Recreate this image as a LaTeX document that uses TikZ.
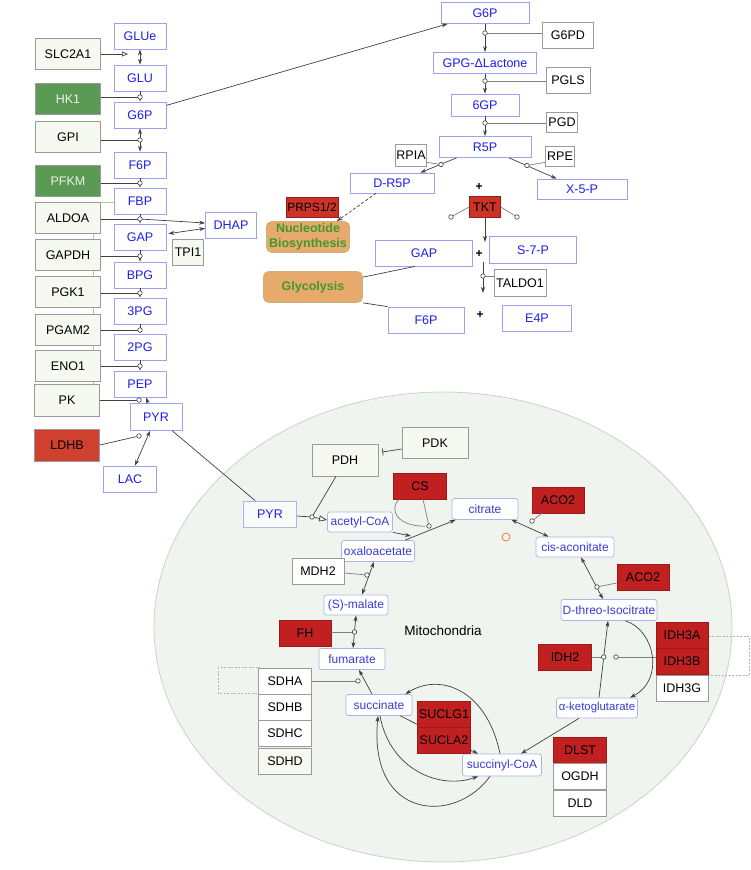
\documentclass[tikz,border=0pt]{standalone}
\usepackage{fontspec}
\setmainfont{Liberation Sans}
\usetikzlibrary{arrows.meta,calc}
\definecolor{metb}{HTML}{A0A0F0}
\definecolor{mett}{HTML}{1E1EEB}
\definecolor{enzb}{HTML}{9A9A9A}
\definecolor{enzf}{HTML}{F5F9EF}
\definecolor{hkf}{HTML}{5B9A55}
\definecolor{hkt}{HTML}{EAF2E4}
\definecolor{ldhf}{HTML}{D0402E}
\definecolor{redf}{HTML}{C0201F}
\definecolor{redb}{HTML}{A01818}
\definecolor{tktf}{HTML}{CC3328}
\definecolor{mitof}{HTML}{EFF4EE}
\definecolor{mitob}{HTML}{C9D3C9}
\definecolor{mmb}{HTML}{AEB4E6}
\definecolor{mmt}{HTML}{3A3AD6}
\definecolor{orf}{HTML}{E8A96C}
\definecolor{orb}{HTML}{C9B37A}
\definecolor{ort}{HTML}{3F9A2E}
\definecolor{linec}{HTML}{404040}
\definecolor{lgreen}{HTML}{A8D880}
\begin{document}
\begin{tikzpicture}[x=1pt,y=-1pt,
  base/.style={inner sep=0pt, font=\fontsize{12.5}{14}\selectfont, line width=0.7pt},
  sz/.style 2 args={minimum width=#1pt, minimum height=#2pt},
  met/.style={base, draw=metb, fill=white, text=mett},
  enz/.style={base, draw=enzb, fill=enzf, text=black},
  wenz/.style={base, draw=enzb, fill=white, text=black},
  genz/.style={base, draw=enzb, fill=hkf, text=hkt},
  renz/.style={base, draw=redb, fill=redf, text=black},
  mm/.style={base, rounded corners=2.5pt, draw=mmb, fill=white, text=mmt, font=\fontsize{12}{14}\selectfont},
  pathbox/.style={base, rounded corners=5pt, draw=orb, fill=orf, text=ort, font=\fontsize{12.5}{15}\bfseries\selectfont, align=center},
  plus/.style={inner sep=0pt, font=\fontsize{12}{14}\bfseries\selectfont},
  cir/.style={circle, draw=linec, fill=white, inner sep=0pt, minimum size=4.5pt, line width=0.6pt},
  con/.style={draw=linec, line width=0.7pt},
  gcon/.style={draw=gray, line width=0.7pt},
  arr/.style={con, -{Stealth[length=6pt,width=4pt]}},
  darr/.style={con, {Stealth[length=6pt,width=4pt]}-{Stealth[length=6pt,width=4pt]}},
  dbox/.style={draw=gray!60, line width=0.6pt, dash pattern=on 2pt off 1.5pt},
]
\useasboundingbox (0,0) rectangle (750,870);
% mitochondrion
\draw[fill=mitof, draw=mitob, line width=0.8pt] (443,627) ellipse [x radius=289, y radius=235];
% faint green guide lines
\draw[lgreen, line width=0.7pt] (93,202) -- (114,202);
\draw[lgreen, line width=0.7pt] (93,202) -- (93,384);
% dashed boxes
\draw[dbox] (218,667) rectangle (259,693);
\draw[dbox] (708,636) rectangle (749,675);

% ---------- Glycolysis ----------
\node[met, sz={52}{26}] (glue) at (140,36) {GLUe};
\node[enz, sz={65}{31}] (slc) at (68,54) {SLC2A1};
\node[met, sz={52}{26}] (glu) at (140,78) {GLU};
\node[genz, sz={65}{31}] (hk1) at (68,99) {HK1};
\node[met, sz={52}{26}] (g6p) at (140,115) {G6P};
\node[enz, sz={65}{31}] (gpi) at (68,137) {GPI};
\node[met, sz={52}{26}] (f6p) at (140,165) {F6P};
\node[genz, sz={65}{31}] (pfkm) at (68,181) {PFKM};
\node[met, sz={52}{26}] (fbp) at (140,201) {FBP};
\node[enz, sz={65}{31}] (aldoa) at (68,218) {ALDOA};
\node[met, sz={51}{26}] (dhap) at (231,225) {DHAP};
\node[met, sz={52}{26}] (gap) at (140,237) {GAP};
\node[enz, sz={31}{26}] (tpi) at (188,252) {TPI1};
\node[enz, sz={65}{31}] (gapdh) at (68,255) {GAPDH};
\node[met, sz={52}{26}] (bpg) at (140,275) {BPG};
\node[enz, sz={65}{31}] (pgk) at (68,292) {PGK1};
\node[met, sz={52}{26}] (p3g) at (140,311) {3PG};
\node[enz, sz={65}{31}] (pgam) at (68,330) {PGAM2};
\node[met, sz={52}{26}] (p2g) at (140,347) {2PG};
\node[enz, sz={65}{31}] (eno) at (68,366) {ENO1};
\node[met, sz={52}{26}] (pep) at (140,384) {PEP};
\node[enz, sz={65}{32}] (pk) at (67,400) {PK};
\node[met, sz={52}{27}] (pyr) at (156,417) {PYR};
\node[base, draw=enzb, fill=ldhf, text=black, sz={65}{32}] (ldhb) at (67,445) {LDHB};
\node[met, sz={53}{26}] (lac) at (130,479) {LAC};

\coordinate (tslc) at (128,54);
\coordinate (chk) at (140,97);
\coordinate (cgpi) at (140,140);
\coordinate (cpfk) at (140,183);
\coordinate (cald) at (140,219);
\coordinate (cgapdh) at (140,256);
\coordinate (cpgk) at (140,293);
\coordinate (cpgam) at (140,330);
\coordinate (ceno) at (140,366);
\coordinate (cpk) at (139,400);
\coordinate (cldh) at (139,436);

\draw[darr] (glue) -- (glu);
\draw[con, -{Triangle[open,length=6pt,width=5pt]}] (slc.east |- tslc) -- (tslc);
\draw[arr] (glu) -- (g6p);
\draw[darr] (g6p) -- (f6p);
\draw[arr] (f6p) -- (fbp);
\draw[arr] (fbp) -- (gap);
\draw[arr] (cald) -- ($(dhap.west)+(0,-2)$);
\draw[darr] ($(gap.north east)+(2,10)$) -- ($(dhap.south west)+(0,-10)$);
\draw[arr] (gap) -- (bpg);
\draw[arr] (bpg) -- (p3g);
\draw[arr] (p3g) -- (p2g);
\draw[arr] (p2g) -- (pep);
\draw[arr] ($(pyr.north)+(-8,0)$) -- ($(pep.south)+(6,0)$);
\draw[darr] ($(pyr.south)+(-6,0)$) -- ($(lac.north)+(5,0)$);
\draw[con] (hk1.east |- chk) -- (chk);
\draw[con] (gpi.east |- cgpi) -- (cgpi);
\draw[con] (pfkm.east |- cpfk) -- (cpfk);
\draw[con] (aldoa.east |- cald) -- (cald);
\draw[con] (gapdh.east |- cgapdh) -- (cgapdh);
\draw[con] (pgk.east |- cpgk) -- (cpgk);
\draw[con] (pgam.east |- cpgam) -- (cpgam);
\draw[con] (eno.east |- ceno) -- (ceno);
\draw[con] (pk.east |- cpk) -- (cpk);
\draw[con] (ldhb.east) -- (cldh);

% ---------- Pentose phosphate ----------
\node[met, sz={88}{21}] (g6pt) at (485,13) {G6P};
\node[wenz, sz={51}{26}] (g6pd) at (568,35) {G6PD};
\node[met, sz={103}{21}] (gpg) at (485,63) {GPG-ΔLactone};
\node[wenz, sz={44}{26}] (pgls) at (568,80) {PGLS};
\node[met, sz={68}{22}] (gp6) at (485,105) {6GP};
\node[wenz, sz={31}{20}] (pgd) at (562,122) {PGD};
\node[met, sz={92}{21}] (r5p) at (485,147) {R5P};
\node[wenz, sz={31}{22}] (rpia) at (411,155) {RPIA};
\node[wenz, sz={29}{20}] (rpe) at (560,156) {RPE};
\node[met, sz={84}{20}] (dr5p) at (392,183) {D-R5P};
\node[met, sz={90}{20}] (x5p) at (582,189) {X-5-P};
\node[base, draw=redb, fill=tktf, text=black, sz={52}{20}, font=\fontsize{12}{14}\selectfont] (prps) at (312,207) {PRPS1/2};
\node[pathbox, sz={83}{31}] (nuc) at (308,237) {Nucleotide\\Biosynthesis};
\node[plus] (plus1) at (479,187) {+};
\node[base, draw=redb, fill=tktf, text=black, sz={31}{21}] (tkt) at (485,207) {TKT};
\node[met, sz={97}{26}] (gapp) at (424,253) {GAP};
\node[plus] (plus2) at (479,254) {+};
\node[met, sz={87}{27}] (s7p) at (533,250) {S-7-P};
\node[pathbox, sz={99}{31}] (glyco) at (313,287) {Glycolysis};
\node[wenz, sz={52}{27}] (taldo) at (520,283) {TALDO1};
\node[met, sz={76}{26}] (f6pp) at (426,320) {F6P};
\node[plus] (plus3) at (480,315) {+};
\node[met, sz={69}{26}] (e4p) at (537,318) {E4P};

\coordinate (cg6pd) at (485,33);
\coordinate (cpgls) at (485,81);
\coordinate (cpgd) at (485,123);
\coordinate (crpia) at (441,164.5);
\coordinate (crpe) at (527,165.5);
\coordinate (ctkl) at (451,217);
\coordinate (ctkr) at (517,217);
\coordinate (tktd) at (485,242);
\coordinate (tal1) at (483,262);
\coordinate (tal2) at (483,293);
\coordinate (ctal) at (483,276);

\draw[arr] (g6p.20) -- ($(g6pt.south west)+(7,0)$);
\draw[arr] (g6pt) -- (gpg);
\draw[arr] (gpg) -- (gp6);
\draw[arr] (gp6) -- (r5p);
\draw[gcon] (g6pd.west |- cg6pd) -- (cg6pd);
\draw[gcon] (pgls.west |- cpgls) -- (cpgls);
\draw[gcon] (pgd.west |- cpgd) -- (cpgd);
\draw[arr] ($(r5p.south west)+(18,0)$) -- ($(dr5p.north east)+(-14,0)$);
\draw[arr] ($(r5p.south)+(24,0)$) -- ($(x5p.north west)+(20,0)$);
\draw[gcon] ($(rpia.south east)+(0,-4)$) -- (crpia);
\draw[gcon] ($(rpe.south west)+(0,-4)$) -- (crpe);
\draw[con, densely dashed, -{Stealth[length=6pt,width=4pt]}] ($(dr5p.south)+(-16,0)$) -- ($(nuc.north east)+(-13,0)$);
\draw[gcon] (tkt.west) -- (ctkl);
\draw[gcon] (tkt.east) -- (ctkr);
\draw[arr] (tkt.south) -- (tktd);
\draw[arr] (tal1) -- (tal2);
\draw[gcon] (taldo.west |- ctal) -- (ctal);
\draw[con] ($(glyco.north east)+(0,6)$) -- ($(gapp.south west)+(40,0)$);
\draw[con] (glyco.south east) -- (f6pp.north west);

% ---------- Mitochondrion ----------
\node[enz, sz={66}{31}] (pdk) at (435,443) {PDK};
\node[enz, sz={66}{32}] (pdh) at (345,460) {PDH};
\node[renz, sz={53}{26}] (cs) at (420,486) {CS};
\node[mm, sz={66}{21}] (cit) at (485,509) {citrate};
\node[mm, sz={65}{20}] (acoa) at (360,522) {acetyl-CoA};
\node[mm, sz={73}{21}] (oaa) at (378,551) {oxaloacetate};
\node[wenz, sz={52}{26}] (mdh) at (318,571) {MDH2};
\node[base, draw=mmb, fill=mitof!40!white, text=mett, sz={53}{26}] (pyrm) at (270,514) {PYR};
\node[renz, sz={52}{26}] (aco1) at (558,500) {ACO2};
\node[mm, sz={78}{20}] (cisa) at (575,547) {cis-aconitate};
\node[renz, sz={52}{26}] (aco2) at (643,577) {ACO2};
\node[mm, sz={96}{21}] (iso) at (609,610) {D-threo-Isocitrate};
\node[renz, sz={52}{26}] (idh3a) at (682,635) {IDH3A};
\node[renz, sz={52}{26}] (idh3b) at (682,661) {IDH3B};
\node[wenz, sz={52}{26}] (idh3g) at (682,688) {IDH3G};
\node[renz, sz={53}{26}] (idh2) at (565,657) {IDH2};
\node[mm, sz={81}{20}, font=\fontsize{11.4}{14}\selectfont] (akg) at (597,708) {α-ketoglutarate};
\node[renz, sz={53}{26}] (dlst) at (580,750) {DLST};
\node[wenz, sz={53}{26}] (ogdh) at (580,776) {OGDH};
\node[wenz, sz={53}{26}] (dld) at (580,803) {DLD};
\node[mm, sz={79}{22}] (scoa) at (502,765) {succinyl-CoA};
\node[renz, sz={53}{26}] (sucg) at (444,714) {SUCLG1};
\node[renz, sz={53}{26}] (suca) at (444,740) {SUCLA2};
\node[mm, sz={66}{21}] (succ) at (379,705) {succinate};
\node[wenz, sz={53}{26}] (sdha) at (285,681) {SDHA};
\node[wenz, sz={53}{26}] (sdhb) at (285,707) {SDHB};
\node[wenz, sz={53}{26}] (sdhc) at (285,733) {SDHC};
\node[enz, sz={53}{26}] (sdhd) at (285,761) {SDHD};
\node[mm, sz={66}{21}] (fum) at (352,659) {fumarate};
\node[renz, sz={52}{26}] (fh) at (305,633) {FH};
\node[mm, sz={64}{20}] (mal) at (356,605) {(S)-malate};
\node[inner sep=0pt, font=\fontsize{13.5}{15}\selectfont] (mitolab) at (443,631) {Mitochondria};
\node[circle, draw=orange!70!red, line width=0.6pt, inner sep=0pt, minimum size=8pt] (redc) at (506,537) {};

\coordinate (cpdh) at (312,517);
\coordinate (jcs) at (411,536);
\coordinate (ccs) at (429,526);
\coordinate (caco1) at (532,521);
\coordinate (caco2) at (597,587);
\coordinate (cidh2) at (603.7,657);
\coordinate (cidh3) at (616,657);
\coordinate (csdh) at (358,681);
\coordinate (cfh) at (354.5,632);
\coordinate (cmdh) at (367,575);

\draw[con] ($(pyr.south east)+(-10,0)$) -- ($(pyrm.north west)+(12,0)$);
\draw[con, -{Bar[width=7pt]}] ($(pdk.west)+(0,6)$) -- ($(pdh.east)+(4,-8)$);
\draw[con] ($(pyrm.east)+(0,2)$) -- (cpdh);
\draw[con, -{Triangle[open,length=8pt,width=6pt]}] (cpdh) -- ($(acoa.west)+(0,-2)$);
\draw[con] ($(pdh.south)+(-9,0)$) -- (cpdh);
\draw[arr] (acoa.south east) -- (jcs);
\draw[arr] ($(oaa.north)+(27,0)$) -- ($(cit.south west)+(4,0)$);
\draw[gcon] ($(cs.south)+(3,0)$) -- (ccs);
\draw[gcon] ($(cs.south west)+(6,0)$) .. controls (388,510) and (398,528) .. (ccs);
\draw[darr] ($(cit.south east)+(-7,0)$) -- ($(cisa.north west)+(13,0)$);
\draw[gcon] ($(aco1.south west)+(10,0)$) -- (caco1);
\draw[darr] ($(cisa.south)+(6,0)$) -- ($(iso.north)+(-6,0)$);
\draw[gcon] ($(aco2.west)+(0,6)$) -- (caco2);
\draw[arr] ($(akg.north)+(2,0)$) -- ($(iso.south)+(-1,0)$);
\draw[gcon] (idh2.east |- cidh2) -- (cidh2);
\draw[gcon] (idh3b.west |- cidh3) -- (cidh3);
\draw[arr] ($(iso.south east)+(-32,0)$) .. controls (655,630) and (665,680) .. ($(akg.north east)+(-8,0)$);
\draw[arr] ($(akg.south)+(-18,0)$) -- ($(scoa.north)+(19,0)$);
\draw[arr] ($(scoa.north)+(-2,0)$) .. controls (487,690) and (440,672) .. ($(succ.north east)+(-7,0)$);
\draw[arr] ($(succ.south)+(1,0)$) .. controls (390,770) and (440,790) .. ($(scoa.south west)+(16,0)$);
\draw[arr] ($(scoa.south)+(-12,0)$) .. controls (455,825) and (368,820) .. ($(succ.south)+(-1,0)$);
\draw[con] ($(sucg.south west)+(0,-3)$) -- ($(succ.south east)+(-12,0)$);
\draw[arr] ($(suca.south east)+(0,-3)$) -- ($(scoa.north west)+(16,0)$);
\draw[arr] ($(succ.north)+(-7,0)$) -- ($(fum.south)+(7,0)$);
\draw[gcon] (sdha.east |- csdh) -- (csdh);
\draw[darr] ($(fum.north)+(1,0)$) -- (mal.south);
\draw[gcon] (fh.east |- cfh) -- (cfh);
\draw[darr] ($(mal.north)+(6,0)$) -- ($(oaa.south)+(-4,0)$);
\draw[gcon] ($(mdh.east)+(0,2)$) -- (cmdh);

% ---------- modifier circles ----------
\foreach \c in {chk,cgpi,cpfk,cald,cgapdh,cpgk,cpgam,ceno,cpk,cldh,cg6pd,cpgls,cpgd,crpia,crpe,ctkl,ctkr,ctal,cpdh,ccs,caco1,caco2,cidh2,cidh3,csdh,cfh,cmdh}
  \node[cir] at (\c) {};
\end{tikzpicture}
\end{document}
